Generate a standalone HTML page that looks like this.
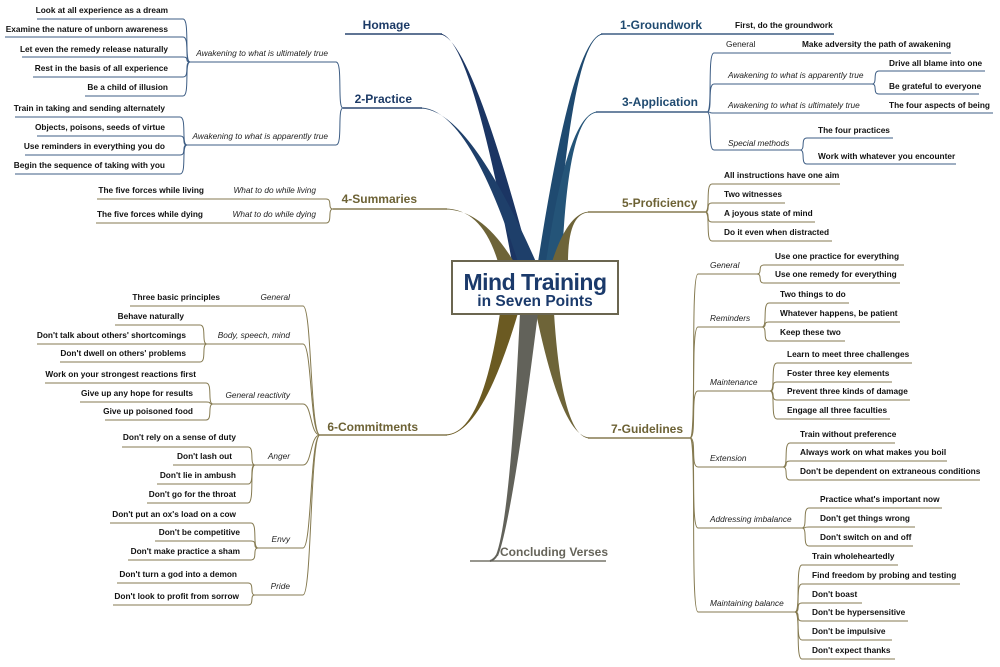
<!DOCTYPE html>
<html><head><meta charset="utf-8"><style>
html,body{margin:0;padding:0;background:#fff;}
svg{display:block;}
.b{font-family:"Liberation Sans",Arial,sans-serif;font-weight:bold;font-size:8.3px;fill:#111;}
.i{font-family:"Liberation Sans",Arial,sans-serif;font-style:italic;font-size:8.3px;fill:#222;}
.r{font-family:"Liberation Sans",Arial,sans-serif;font-size:8.3px;fill:#222;}
.m{font-family:"Liberation Sans",Arial,sans-serif;font-weight:bold;font-size:12px;}
.lb{fill:none;stroke:#3d5d84;stroke-width:1;}
.lo{fill:none;stroke:#857a50;stroke-width:1;}
</style></head><body>
<svg width="1000" height="667" viewBox="0 0 1000 667" xmlns="http://www.w3.org/2000/svg">
<g>
<path d="M440 33.5 Q470 36 512 262 L530 262 Q470 36 440 34.5 Z" fill="#1b3563"/>
<path d="M420 107.5 Q468 108 518 262 L536 262 Q468 108 420 108.5 Z" fill="#1e3f6a"/>
<path d="M603 33.5 Q573 36 538 262 L556 262 Q573 36 603 34.5 Z" fill="#1f4a70"/>
<path d="M598 111.5 Q568 112 546 262 L562 262 Q568 112 598 112.5 Z" fill="#245478"/>
<path d="M445 208.5 Q482 209 498 262 L514 262 Q482 209 445 209.5 Z" fill="#6e6438"/>
<path d="M590 211.5 Q568 212 552 262 L568 262 Q568 212 590 212.5 Z" fill="#6e6438"/>
<path d="M445 434.5 Q482 435 500 313 L518 313 Q482 435 445 435.5 Z" fill="#6b5a22"/>
<path d="M590 437.5 Q562 438 536 313 L554 313 Q562 438 590 438.5 Z" fill="#6e6438"/>
<path d="M496 555 Q510 520 520 313 L538 313 Q512 520 498 556 Z" fill="#62625a"/>
</g>
<g fill="none" stroke-width="1.4">
<path d="M345 34 L442 34" stroke="#2a4670"/>
<path d="M343 108 L422 108" stroke="#2a4670"/>
<path d="M601 34 L834 34" stroke="#3d5d84"/>
<path d="M596 112 L707 112" stroke="#3d5d84"/>
<path d="M333 209 L447 209" stroke="#857a50"/>
<path d="M588 212 L705 212" stroke="#857a50"/>
<path d="M320 435 L447 435" stroke="#857a50"/>
<path d="M588 438 L690 438" stroke="#857a50"/>
<path d="M470 561 L606 561" stroke="#77756a"/>
<path d="M497 555 Q494 560 490 561" stroke="#62625a" stroke-width="2"/>
</g>
<g class="lb">
<path d="M707 112 C713 112 707 53 714 53 L951 53"/>
<path d="M707 112 C713 112 707 84 714 84 L872 84"/>
<path d="M707 112 C713 112 707 113 714 113 L993 113"/>
<path d="M707 112 C713 112 707 150 714 150 L800 150"/>
<path d="M872 84 C878 84 872 71 879 71 L985 71"/>
<path d="M872 84 C878 84 872 94 879 94 L979 94"/>
<path d="M800 150 C806 150 800 138 807 138 L893 138"/>
<path d="M800 150 C806 150 800 164 807 164 L956 164"/>
</g>
<g class="lo">
<path d="M705 212 C711 212 705 184 712 184 L840 184"/>
<path d="M705 212 C711 212 705 203 712 203 L785 203"/>
<path d="M705 212 C711 212 705 222 712 222 L815 222"/>
<path d="M705 212 C711 212 705 241 712 241 L832 241"/>
<path d="M690 438 C697 438 690 274 698 274 L757 274"/>
<path d="M690 438 C697 438 690 327 698 327 L762 327"/>
<path d="M690 438 C697 438 690 391 698 391 L770 391"/>
<path d="M690 438 C697 438 690 467 698 467 L783 467"/>
<path d="M690 438 C697 438 690 528 698 528 L802 528"/>
<path d="M690 438 C697 438 690 612 698 612 L795 612"/>
<path d="M757 274 C763 274 757 265 764 265 L904 265"/>
<path d="M757 274 C763 274 757 283 764 283 L900 283"/>
<path d="M762 327 C768 327 762 303 769 303 L849 303"/>
<path d="M762 327 C768 327 762 322 769 322 L900 322"/>
<path d="M762 327 C768 327 762 341 769 341 L845 341"/>
<path d="M770 391 C776 391 770 363 777 363 L912 363"/>
<path d="M770 391 C776 391 770 382 777 382 L892 382"/>
<path d="M770 391 C776 391 770 400 777 400 L910 400"/>
<path d="M770 391 C776 391 770 419 777 419 L890 419"/>
<path d="M783 467 C789 467 783 443 790 443 L895 443"/>
<path d="M783 467 C789 467 783 461 790 461 L947 461"/>
<path d="M783 467 C789 467 783 480 790 480 L980 480"/>
<path d="M802 528 C808 528 802 508 809 508 L942 508"/>
<path d="M802 528 C808 528 802 527 809 527 L915 527"/>
<path d="M802 528 C808 528 802 546 809 546 L913 546"/>
<path d="M795 612 C801 612 795 565 802 565 L898 565"/>
<path d="M795 612 C801 612 795 584 802 584 L960 584"/>
<path d="M795 612 C801 612 795 603 802 603 L862 603"/>
<path d="M795 612 C801 612 795 621 802 621 L908 621"/>
<path d="M795 612 C801 612 795 640 802 640 L892 640"/>
<path d="M795 612 C801 612 795 659 802 659 L895 659"/>
</g>
<g class="lb">
<path d="M343 108 C337 108 343 62 336 62 L190 62"/>
<path d="M343 108 C337 108 343 145 336 145 L187 145"/>
<path d="M190 62 C184 62 190 19 183 19 L37 19"/>
<path d="M190 62 C184 62 190 37 183 37 L5 37"/>
<path d="M190 62 C184 62 190 57 183 57 L22 57"/>
<path d="M190 62 C184 62 190 77 183 77 L33 77"/>
<path d="M190 62 C184 62 190 96 183 96 L85 96"/>
<path d="M187 145 C181 145 187 117 180 117 L15 117"/>
<path d="M187 145 C181 145 187 136 180 136 L37 136"/>
<path d="M187 145 C181 145 187 155 180 155 L25 155"/>
<path d="M187 145 C181 145 187 174 180 174 L15 174"/>
</g>
<g class="lo">
<path d="M333 209 C327 209 333 199 326 199 L97 199"/>
<path d="M333 209 C327 209 333 223 326 223 L96 223"/>
<path d="M320 435 C310 435 312 306 303 306 L130 306"/>
<path d="M320 435 C310 435 312 344 303 344 L207 344"/>
<path d="M320 435 C310 435 312 404 303 404 L213 404"/>
<path d="M320 435 C310 435 312 465 303 465 L255 465"/>
<path d="M320 435 C310 435 312 548 303 548 L258 548"/>
<path d="M320 435 C310 435 312 595 303 595 L255 595"/>
<path d="M207 344 C201 344 207 325 200 325 L115 325"/>
<path d="M207 344 C201 344 207 344 200 344 L37 344"/>
<path d="M207 344 C201 344 207 362 200 362 L60 362"/>
<path d="M213 404 C207 404 213 383 206 383 L45 383"/>
<path d="M213 404 C207 404 213 402 206 402 L80 402"/>
<path d="M213 404 C207 404 213 420 206 420 L105 420"/>
<path d="M255 465 C249 465 255 447 248 447 L122 447"/>
<path d="M255 465 C249 465 255 465 248 465 L173 465"/>
<path d="M255 465 C249 465 255 484 248 484 L157 484"/>
<path d="M255 465 C249 465 255 503 248 503 L147 503"/>
<path d="M258 548 C252 548 258 523 251 523 L110 523"/>
<path d="M258 548 C252 548 258 541 251 541 L155 541"/>
<path d="M258 548 C252 548 258 560 251 560 L128 560"/>
<path d="M255 595 C249 595 255 583 248 583 L117 583"/>
<path d="M255 595 C249 595 255 605 248 605 L113 605"/>
</g>
<rect x="452" y="261" width="166" height="53" fill="#fff" stroke="#6b6650" stroke-width="2"/>
<text x="535" y="290" text-anchor="middle" font-family="'Liberation Sans',Arial,sans-serif" font-weight="bold" font-size="23" fill="#1b3a6b" letter-spacing="-0.5">Mind Training</text>
<text x="535" y="306" text-anchor="middle" font-family="'Liberation Sans',Arial,sans-serif" font-weight="bold" font-size="15.5" fill="#1b3a6b">in Seven Points</text>
<text class="m" x="410" y="29" text-anchor="end" fill="#1c3a66">Homage</text>
<text class="m" x="412" y="103" text-anchor="end" fill="#1c3a66">2-Practice</text>
<text class="m" x="620" y="29" fill="#1f4a70">1-Groundwork</text>
<text class="m" x="622" y="106" fill="#1f4a70">3-Application</text>
<text class="m" x="417" y="203" text-anchor="end" fill="#6d6235">4-Summaries</text>
<text class="m" x="622" y="207" fill="#6d6235">5-Proficiency</text>
<text class="m" x="418" y="431" text-anchor="end" fill="#6d6235">6-Commitments</text>
<text class="m" x="611" y="433" fill="#6d6235">7-Guidelines</text>
<text class="m" x="500" y="556" fill="#66645a">Concluding Verses</text>
<text class="b" x="735" y="28">First, do the groundwork</text>
<text class="r" x="726" y="47">General</text>
<text class="b" x="802" y="47">Make adversity the path of awakening</text>
<text class="i" x="728" y="78">Awakening to what is apparently true</text>
<text class="b" x="889" y="66">Drive all blame into one</text>
<text class="b" x="889" y="89">Be grateful to everyone</text>
<text class="i" x="728" y="108">Awakening to what is ultimately true</text>
<text class="b" x="889" y="108">The four aspects of being</text>
<text class="i" x="728" y="146">Special methods</text>
<text class="b" x="818" y="133">The four practices</text>
<text class="b" x="818" y="159">Work with whatever you encounter</text>
<text class="b" x="724" y="178">All instructions have one aim</text>
<text class="b" x="724" y="197">Two witnesses</text>
<text class="b" x="724" y="216">A joyous state of mind</text>
<text class="b" x="724" y="235">Do it even when distracted</text>
<text class="i" x="710" y="268">General</text>
<text class="b" x="775" y="259">Use one practice for everything</text>
<text class="b" x="775" y="277">Use one remedy for everything</text>
<text class="i" x="710" y="321">Reminders</text>
<text class="b" x="780" y="297">Two things to do</text>
<text class="b" x="780" y="316">Whatever happens, be patient</text>
<text class="b" x="780" y="335">Keep these two</text>
<text class="i" x="710" y="385">Maintenance</text>
<text class="b" x="787" y="357">Learn to meet three challenges</text>
<text class="b" x="787" y="376">Foster three key elements</text>
<text class="b" x="787" y="394">Prevent three kinds of damage</text>
<text class="b" x="787" y="413">Engage all three faculties</text>
<text class="i" x="710" y="461">Extension</text>
<text class="b" x="800" y="437">Train without preference</text>
<text class="b" x="800" y="455">Always work on what makes you boil</text>
<text class="b" x="800" y="474">Don't be dependent on extraneous conditions</text>
<text class="i" x="710" y="522">Addressing imbalance</text>
<text class="b" x="820" y="502">Practice what's important now</text>
<text class="b" x="820" y="521">Don't get things wrong</text>
<text class="b" x="820" y="540">Don't switch on and off</text>
<text class="i" x="710" y="606">Maintaining balance</text>
<text class="b" x="812" y="559">Train wholeheartedly</text>
<text class="b" x="812" y="578">Find freedom by probing and testing</text>
<text class="b" x="812" y="597">Don't boast</text>
<text class="b" x="812" y="615">Don't be hypersensitive</text>
<text class="b" x="812" y="634">Don't be impulsive</text>
<text class="b" x="812" y="653">Don't expect thanks</text>
<g text-anchor="end">
<text class="i" x="328" y="56">Awakening to what is ultimately true</text>
<text class="b" x="168" y="13">Look at all experience as a dream</text>
<text class="b" x="168" y="32">Examine the nature of unborn awareness</text>
<text class="b" x="168" y="52">Let even the remedy release naturally</text>
<text class="b" x="168" y="71">Rest in the basis of all experience</text>
<text class="b" x="168" y="90">Be a child of illusion</text>
<text class="i" x="328" y="139">Awakening to what is apparently true</text>
<text class="b" x="165" y="111">Train in taking and sending alternately</text>
<text class="b" x="165" y="130">Objects, poisons, seeds of virtue</text>
<text class="b" x="165" y="149">Use reminders in everything you do</text>
<text class="b" x="165" y="168">Begin the sequence of taking with you</text>
<text class="i" x="316" y="193">What to do while living</text>
<text class="b" x="204" y="193">The five forces while living</text>
<text class="i" x="316" y="217">What to do while dying</text>
<text class="b" x="203" y="217">The five forces while dying</text>
<text class="i" x="290" y="300">General</text>
<text class="b" x="220" y="300">Three basic principles</text>
<text class="i" x="290" y="338">Body, speech, mind</text>
<text class="b" x="184" y="319">Behave naturally</text>
<text class="b" x="186" y="338">Don't talk about others' shortcomings</text>
<text class="b" x="186" y="356">Don't dwell on others' problems</text>
<text class="i" x="290" y="398">General reactivity</text>
<text class="b" x="196" y="377">Work on your strongest reactions first</text>
<text class="b" x="193" y="396">Give up any hope for results</text>
<text class="b" x="193" y="414">Give up poisoned food</text>
<text class="i" x="290" y="459">Anger</text>
<text class="b" x="236" y="440">Don't rely on a sense of duty</text>
<text class="b" x="232" y="459">Don't lash out</text>
<text class="b" x="236" y="478">Don't lie in ambush</text>
<text class="b" x="236" y="497">Don't go for the throat</text>
<text class="i" x="290" y="542">Envy</text>
<text class="b" x="236" y="517">Don't put an ox's load on a cow</text>
<text class="b" x="240" y="535">Don't be competitive</text>
<text class="b" x="240" y="554">Don't make practice a sham</text>
<text class="i" x="290" y="589">Pride</text>
<text class="b" x="237" y="577">Don't turn a god into a demon</text>
<text class="b" x="239" y="599">Don't look to profit from sorrow</text>
</g>
</svg>
</body></html>
